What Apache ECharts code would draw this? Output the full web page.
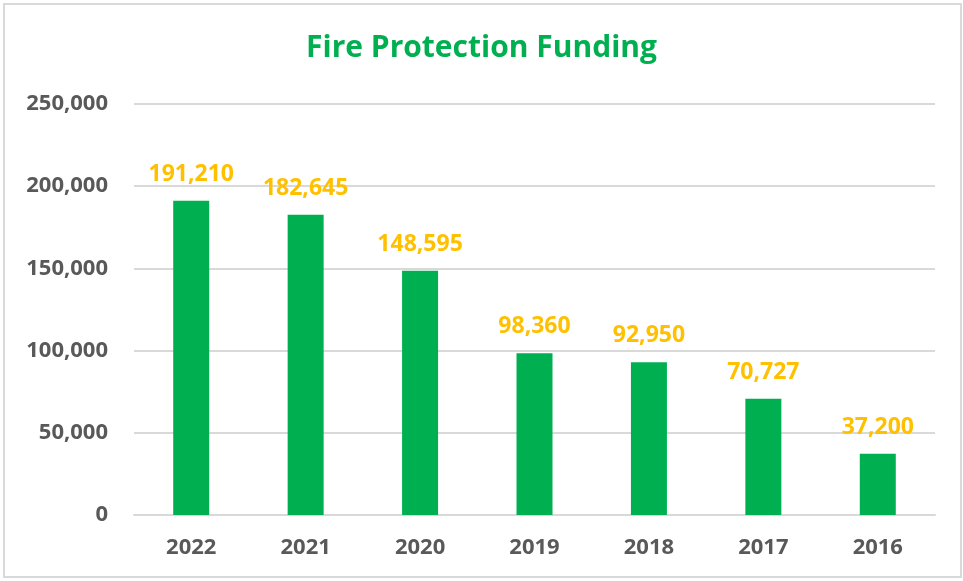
<!DOCTYPE html>
<html>
    <head>
        <meta charset=utf-8>
        <style>
            html, body { margin: 0; padding: 0; background: #fff; }
        </style>
    </head>
    <body>
        <div id="chart" style="width:963px;height:581px"></div>
        <script src="https://cdn.jsdelivr.net/npm/echarts@6/dist/echarts.min.js"></script>
        <script type="text/javascript">

            var myChart = echarts.init(document.querySelector('#chart'));

            let years = ['2022', '2021', '2020', '2019', '2018', '2017', '2016']
            let funding = [191210, 182645, 148595, 98360, 92950, 70727, 37200]

            let fontFam = '"Open Sans", "Liberation Sans", sans-serif'

            let option = {
            backgroundColor: '#fff',
            title: {
                text: 'Fire Protection Funding',
                left: 'center',
                top: 28,
                textStyle: {
                    color: '#00B050',
                    fontSize: 30,
                    fontWeight: 'bold',
                    fontFamily: fontFam
                }
            },
            graphic: [{
                type: 'rect',
                shape: { x: 4, y: 4, width: 957, height: 573 },
                style: { fill: 'none', stroke: '#d9d9d9', lineWidth: 2 },
                silent: true
            }],
            grid: {
                left: 134,
                right: 28,
                top: 104,
                bottom: 66,
                containLabel: false,
            },
            xAxis: {
                type: "category",
                data: years,
                axisTick: { show: false },
                axisLine: { lineStyle: { color: '#d9d9d9', width: 2 } },
                axisLabel: {
                    interval: 0,
                    margin: 22,
                    color: '#595959',
                    fontSize: 22,
                    fontWeight: 'bold',
                    fontFamily: fontFam
                },
            },
            yAxis: {
                type: "value",
                min: 0,
                max: 250000,
                interval: 50000,
                axisLine: { show: false },
                axisTick: { show: false },
                splitLine: { lineStyle: { color: '#d9d9d9', width: 2 } },
                axisLabel: {
                    margin: 26,
                    color: '#595959',
                    fontSize: 22,
                    fontWeight: 'bold',
                    fontFamily: fontFam,
                    formatter: function (v) {
                        return v.toLocaleString('en-US')
                    }
                },
            },
            series: [{
                type: 'bar',
                data: funding,
                barWidth: 36,
                itemStyle: { color: '#00B050' },
                label: {
                    show: true,
                    position: 'top',
                    distance: 15,
                    color: '#FFC000',
                    fontSize: 23,
                    fontWeight: 'bold',
                    fontFamily: fontFam,
                    formatter: function (p) {
                        return p.value.toLocaleString('en-US')
                    }
                }
            }],
            }
            myChart.setOption(option);
        </script>
    </body>
</html>
